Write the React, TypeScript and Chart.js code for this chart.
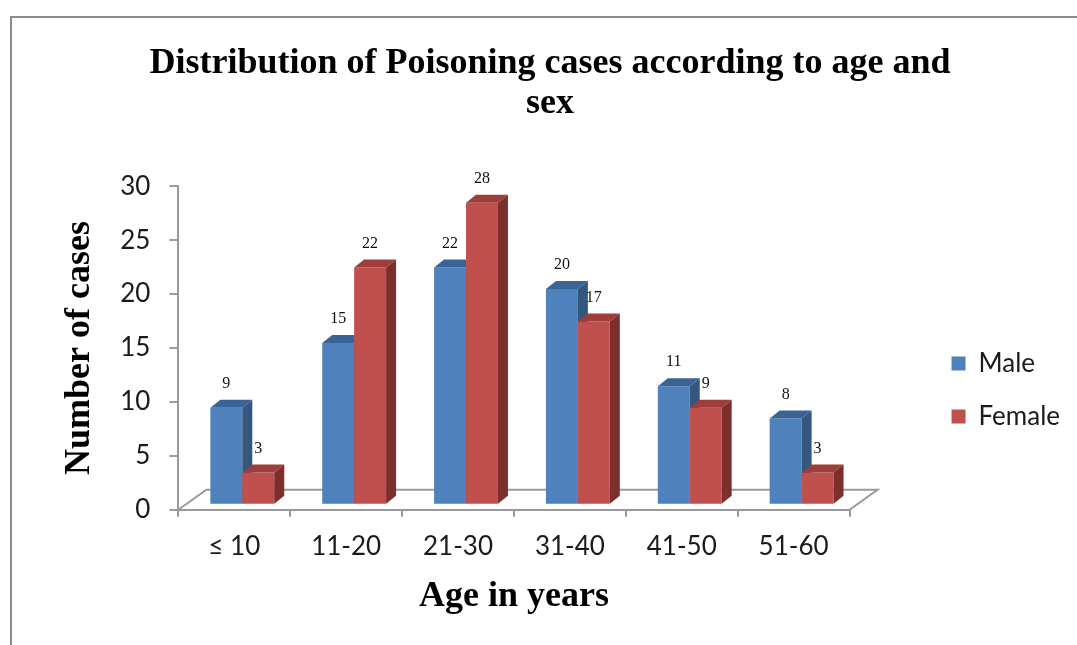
import React, { useEffect, useRef } from 'react';
import { Chart, registerables } from 'chart.js';

Chart.register(...registerables);

const categories = ['≤ 10', '11-20', '21-30', '31-40', '41-50', '51-60'];
const maleCases = [9, 15, 22, 20, 11, 8];
const femaleCases = [3, 22, 28, 17, 9, 3];
const seriesNames = ['Male', 'Female'];
const titleLines = ['Distribution of Poisoning cases according to age and', 'sex'];
const xAxisTitle = 'Age in years';
const yAxisTitle = 'Number of cases';
const yMin = 0;
const yMax = 30;
const yStep = 5;

const SERIF = "'Liberation Serif', 'Times New Roman', serif";
const SANS = "Lato, 'Liberation Sans', sans-serif";
const AXIS = '#9a9a9a';

const DEPTH_X = 10;
const DEPTH_Y = -8;
const SHIFT_X = 8;
const SHIFT_Y = -5;
const FLOOR_DX = 28;
const FLOOR_DY = -20;

const threeD = {
  id: 'threeD',
  beforeDatasetsDraw(chart: any) {
    const { ctx, chartArea: a } = chart;
    ctx.save();
    ctx.strokeStyle = AXIS;
    ctx.lineWidth = 2;
    ctx.beginPath();
    ctx.moveTo(a.left, a.bottom);
    ctx.lineTo(a.left + FLOOR_DX, a.bottom + FLOOR_DY);
    ctx.lineTo(a.right + FLOOR_DX, a.bottom + FLOOR_DY);
    ctx.lineTo(a.right, a.bottom);
    ctx.stroke();
    ctx.restore();
  },
  beforeDatasetDraw() {
    // bars are drawn below, in series order, with their 3D faces
    return false;
  },
  afterDatasetsDraw(chart: any) {
    const ctx = chart.ctx;
    ctx.save();
    ctx.translate(SHIFT_X, SHIFT_Y);
    chart.data.datasets.forEach((ds: any, di: number) => {
      const meta = chart.getDatasetMeta(di);
      meta.data.forEach((el: any, i: number) => {
        el.draw(ctx);
        const { x, y, base, width } = el.getProps(['x', 'y', 'base', 'width'], true);
        const l = x - width / 2;
        const r = x + width / 2;
        ctx.fillStyle = ds.topColor;
        ctx.beginPath();
        ctx.moveTo(l, y);
        ctx.lineTo(l + DEPTH_X, y + DEPTH_Y);
        ctx.lineTo(r + DEPTH_X, y + DEPTH_Y);
        ctx.lineTo(r, y);
        ctx.closePath();
        ctx.fill();
        ctx.fillStyle = ds.sideColor;
        ctx.beginPath();
        ctx.moveTo(r, y);
        ctx.lineTo(r + DEPTH_X, y + DEPTH_Y);
        ctx.lineTo(r + DEPTH_X, base + DEPTH_Y);
        ctx.lineTo(r, base);
        ctx.closePath();
        ctx.fill();
        ctx.fillStyle = '#111';
        ctx.font = `16px ${SERIF}`;
        ctx.textAlign = 'center';
        ctx.textBaseline = 'middle';
        ctx.fillText(String(ds.data[i]), x, y + DEPTH_Y - 16);
      });
    });
    ctx.restore();
  },
};

export default function App() {
  const ref = useRef<HTMLCanvasElement | null>(null);
  useEffect(() => {
    if (!ref.current) return;
    const chart = new Chart(ref.current, {
      type: 'bar',
      data: {
        labels: categories,
        datasets: [
          {
            label: seriesNames[0],
            data: maleCases,
            backgroundColor: '#4F81BD',
            topColor: '#3b6496',
            sideColor: '#34577f',
            borderWidth: 0,
            clip: false,
            yAxisID: 'y',
          } as any,
          {
            label: seriesNames[1],
            data: femaleCases,
            backgroundColor: '#C0504D',
            topColor: '#9e3d3a',
            sideColor: '#7c2f2d',
            borderWidth: 0,
            clip: false,
            yAxisID: 'y',
          } as any,
        ],
      },
      options: {
        animation: false,
        responsive: false,
        events: [],
        layout: { padding: { left: 30, right: 7, top: 0, bottom: 0 } },
        datasets: { bar: { categoryPercentage: 0.571, barPercentage: 1 } },
        plugins: {
          title: {
            display: true,
            text: titleLines,
            color: '#000',
            font: { family: SERIF, size: 36, weight: 'bold', lineHeight: 1.1 },
            padding: { top: 44, bottom: 63 },
          },
          legend: {
            position: 'right',
            align: 'center',
            title: {
              display: true,
              text: ' ',
              font: { size: 1, lineHeight: 1 },
              padding: { top: 134, bottom: 0 },
            },
            labels: {
              boxWidth: 14,
              boxHeight: 14,
              padding: 27,
              color: '#1a1a1a',
              font: { family: SANS, size: 26 },
            },
          },
          tooltip: { enabled: false },
        },
        scales: {
          x: {
            grid: { display: true, drawOnChartArea: false, offset: true, tickLength: 7, color: AXIS, lineWidth: 2 },
            border: { display: true, color: AXIS, width: 2 },
            ticks: { color: '#1a1a1a', padding: 14, font: { family: SANS, size: 26 } },
            title: {
              display: true,
              text: xAxisTitle,
              color: '#000',
              font: { family: SERIF, size: 36, weight: 'bold', lineHeight: 1 },
              padding: { top: 3, bottom: 30 },
            },
          },
          y: {
            min: yMin,
            max: yMax,
            ticks: { stepSize: yStep, color: '#1a1a1a', padding: 19, font: { family: SANS, size: 26 } },
            grid: { drawOnChartArea: false, tickLength: 9, color: AXIS, lineWidth: 2 },
            border: { display: true, color: AXIS, width: 2 },
            title: {
              display: true,
              text: yAxisTitle,
              color: '#000',
              font: { family: SERIF, size: 36, weight: 'bold' },
              padding: { top: 28, bottom: 0 },
            },
          },
          gap: {
            type: 'linear',
            position: 'right',
            display: true,
            grid: { display: false },
            border: { display: false },
            ticks: { display: false },
            afterFit: (s: any) => {
              s.width = 75;
            },
          },
        },
      } as any,
      plugins: [threeD],
    });
    return () => chart.destroy();
  }, []);

  return (
    <div style={{ position: 'fixed', left: 0, top: 0, width: 1077, height: 645, overflow: 'hidden', background: '#fff' }}>
      <div
        style={{
          position: 'absolute',
          left: 10,
          top: 16,
          width: 1200,
          height: 800,
          borderLeft: '2px solid #8a8a8a',
          borderTop: '2px solid #8a8a8a',
        }}
      />
      <canvas ref={ref} width={1077} height={645} style={{ position: 'absolute', left: 0, top: 0, display: 'block' }} />
    </div>
  );
}
